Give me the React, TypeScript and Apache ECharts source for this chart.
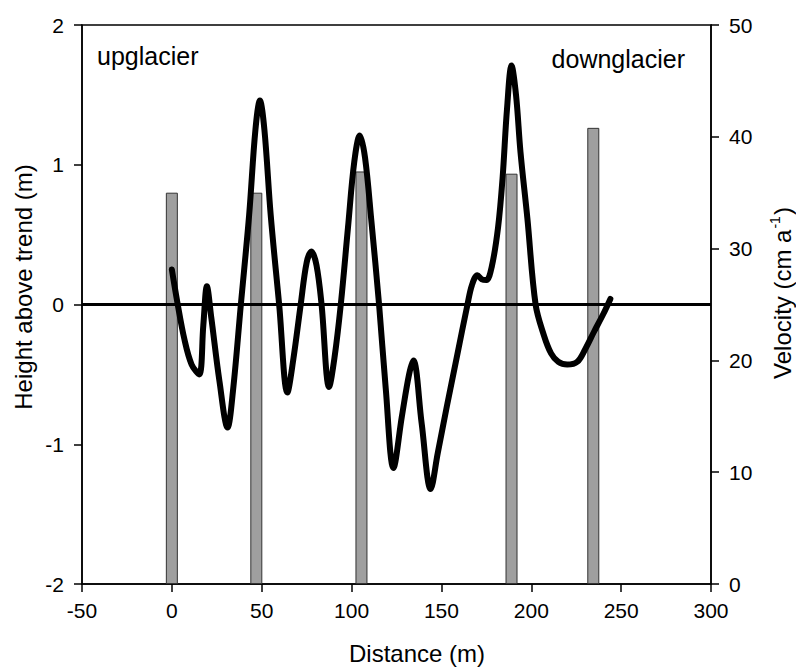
import React, { useEffect, useRef } from "react";
import * as echarts from "echarts";

// Height-above-trend profile (distance in m, height in m)
const profileDistance = [
  0, 3, 7, 11, 15.2, 17.5, 19.5, 22, 26.5, 31, 34, 38.4, 43, 46.5, 49, 51.5, 55, 59.7, 64.3,
  67.5, 71.7, 75, 77.7, 80.5, 83.3, 87.5, 90.5, 94, 98, 101.5, 104.6, 107.5, 111, 115.3, 119,
  123.3, 128, 132, 134.4, 139, 144, 148, 153, 158.5, 164.5, 167, 170, 172.5, 175, 178, 181.5,
  184, 186.5, 189, 191.5, 194, 197.8, 202.4, 207, 211, 215, 220, 225.6, 230, 234.9, 240, 244,
];
const profileHeight = [
  0.25, 0.02, -0.25, -0.43, -0.5, -0.15, 0.13, -0.1, -0.55, -0.88, -0.62, 0, 0.64, 1.25, 1.46,
  1.25, 0.64, 0, -0.63, -0.4, 0, 0.3, 0.38, 0.28, 0, -0.59, -0.38, 0, 0.55, 1.02, 1.21, 1.05,
  0.6, 0, -0.6, -1.17, -0.8, -0.5, -0.4, -0.85, -1.32, -1.06, -0.73, -0.38, 0, 0.14, 0.21, 0.18,
  0.175, 0.27, 0.55, 0.9, 1.4, 1.71, 1.5, 1.09, 0.62, 0, -0.22, -0.35, -0.41, -0.43, -0.41,
  -0.32, -0.195, -0.07, 0.04,
];

// Velocity measurements (distance in m, velocity in cm/a)
const velocityDistance = [0, 47, 105.5, 189, 234.5];
const velocityValue = [35, 35, 36.9, 36.7, 40.8];

const FONT = "'Liberation Sans', Arial, sans-serif";

export default function App() {
  const ref = useRef<HTMLDivElement>(null);

  useEffect(() => {
    if (!ref.current) return;
    const chart = echarts.init(ref.current, null, { renderer: "svg" });

    const axisCommon = {
      axisLine: { show: true, onZero: false, lineStyle: { color: "#000", width: 1.5 } },
      axisTick: { show: true, length: 8, inside: false, lineStyle: { color: "#000", width: 1.5 } },
      splitLine: { show: false },
      axisLabel: { color: "#000", fontSize: 21, fontFamily: FONT },
    };

    chart.setOption({
      animation: false,
      backgroundColor: "#fff",
      grid: {
        left: 82,
        right: 85,
        top: 25,
        bottom: 86,
        show: true,
        borderColor: "#000",
        borderWidth: 1.5,
        backgroundColor: "transparent",
      },
      xAxis: {
        type: "value",
        min: -50,
        max: 300,
        interval: 50,
        ...axisCommon,
        axisLabel: { ...axisCommon.axisLabel, margin: 16 },
      },
      yAxis: [
        {
          type: "value",
          position: "left",
          min: -2,
          max: 2,
          interval: 1,
          ...axisCommon,
          axisLabel: { ...axisCommon.axisLabel, margin: 18 },
        },
        {
          type: "value",
          position: "right",
          min: 0,
          max: 50,
          interval: 10,
          ...axisCommon,
          axisLabel: { ...axisCommon.axisLabel, margin: 18 },
        },
      ],
      series: [
        {
          name: "Velocity",
          type: "bar",
          xAxisIndex: 0,
          yAxisIndex: 1,
          barWidth: 12,
          data: velocityDistance.map((d, i) => [d, velocityValue[i]]),
          itemStyle: { color: "#9f9f9f", borderColor: "#333", borderWidth: 1 },
          z: 2,
        },
        {
          name: "Height above trend",
          type: "line",
          xAxisIndex: 0,
          yAxisIndex: 0,
          smooth: 0.35,
          symbol: "none",
          showSymbol: false,
          data: profileDistance.map((d, i) => [d, profileHeight[i]]),
          lineStyle: { color: "#000", width: 6, cap: "round", join: "round" },
          markLine: {
            silent: true,
            symbol: "none",
            label: { show: false },
            lineStyle: { color: "#000", width: 3, type: "solid" },
            data: [{ yAxis: 0 }],
          },
          z: 3,
        },
      ],
      graphic: [
        {
          type: "text",
          left: 97,
          top: 43,
          style: { text: "upglacier", font: `25px ${FONT}`, fill: "#000" },
        },
        {
          type: "text",
          right: 111,
          top: 46,
          style: { text: "downglacier", font: `25px ${FONT}`, fill: "#000" },
        },
        {
          type: "text",
          x: 417,
          y: 653,
          style: {
            text: "Distance (m)",
            font: `24px ${FONT}`,
            fill: "#000",
            align: "center",
            verticalAlign: "middle",
          },
        },
        {
          type: "text",
          x: 23,
          y: 287,
          rotation: Math.PI / 2,
          style: {
            text: "Height above trend (m)",
            font: `24px ${FONT}`,
            fill: "#000",
            align: "center",
            verticalAlign: "middle",
          },
        },
        {
          type: "text",
          x: 782,
          y: 293,
          rotation: Math.PI / 2,
          style: {
            text: "{a|Velocity (cm a}{s|-1}{a|)}",
            align: "center",
            verticalAlign: "middle",
            rich: {
              a: { fontSize: 24, fontFamily: FONT, fill: "#000", color: "#000", lineHeight: 28 },
              s: {
                fontSize: 14,
                fontFamily: FONT,
                color: "#000",
                verticalAlign: "top",
                lineHeight: 28,
                padding: [0, 1, 10, 1],
              },
            },
          },
        },
      ],
    });

    return () => chart.dispose();
  }, []);

  return (
    <div
      ref={ref}
      style={{ position: "absolute", left: 0, top: 0, width: 796, height: 670, background: "#fff" }}
    />
  );
}
